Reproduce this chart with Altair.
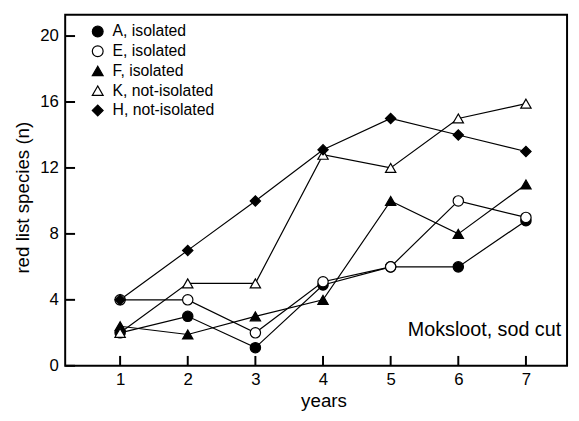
import altair as alt
import pandas as pd

years = [1, 2, 3, 4, 5, 6, 7]
series_labels = ["A, isolated", "E, isolated", "F, isolated", "K, not-isolated", "H, not-isolated"]
A = [2, 3, 1.1, 4.9, 6, 6, 8.8]
E = [4, 4, 2, 5.1, 6, 10, 9]
F = [2.4, 1.9, 3, 4, 10, 8, 11]
K = [2, 5, 5, 12.8, 12, 15, 15.9]
H = [4, 7, 10, 13.1, 15, 14, 13]
y_ticks = [0, 4, 8, 12, 16, 20]
annotation = "Moksloot, sod cut"

shapes = ["circle", "circle", "triangle-up", "triangle-up", "diamond"]
fills = ["black", "white", "black", "white", "black"]
strokes = ["black"] * 5

rows = []
for lab, vals in zip(series_labels, [A, E, F, K, H]):
    for yr, v in zip(years, vals):
        rows.append({"series": lab, "year": yr, "n": v})
df = pd.DataFrame(rows)

FONT = "Liberation Sans"
W, H_ = 509, 356
TICK = 9

xscale = alt.Scale(domain=[0.188, 7.608], nice=False, zero=False)
yscale = alt.Scale(domain=[0, 21.29], nice=False, zero=True)

xaxis = alt.Axis(values=years, ticks=False, domain=False, grid=False, labelPadding=6,
                 labelFontSize=17, title="years", titleFontSize=19, titleFontWeight="normal",
                 titlePadding=4, titleX=262, labelColor="black", titleColor="black", format="d")
yaxis = alt.Axis(values=y_ticks, ticks=False, domain=False, grid=False, labelPadding=7,
                 labelFontSize=17, title="red list species (n)", titleFontSize=19,
                 titleFontWeight="normal", titleAngle=270, titleX=-43, titleY=185,
                 titleAlign="center", titleBaseline="middle", labelColor="black", titleColor="black")

legend = alt.Legend(orient="none", legendX=25, legendY=9, title=None, labelFontSize=16,
                    symbolSize=120, symbolStrokeWidth=1.2,
                    rowPadding=4, labelOffset=7, padding=0, labelColor="black")

base = alt.Chart(df)

lines = base.mark_line(color="black", strokeWidth=1.2).encode(
    x=alt.X("year:Q", scale=xscale, axis=xaxis),
    y=alt.Y("n:Q", scale=yscale, axis=yaxis),
    detail="series:N",
)

points = base.mark_point(filled=False, size=110, strokeWidth=1.2, opacity=1, fillOpacity=1).encode(
    x=alt.X("year:Q", scale=xscale),
    y=alt.Y("n:Q", scale=yscale),
    shape=alt.Shape("series:N", scale=alt.Scale(domain=series_labels, range=shapes), legend=legend),
    fill=alt.Fill("series:N", scale=alt.Scale(domain=series_labels, range=fills), legend=legend),
    stroke=alt.Stroke("series:N", scale=alt.Scale(domain=series_labels, range=strokes), legend=legend),
)

# inward tick marks drawn as short rules from the frame
tick_y_df = pd.DataFrame({"tv": y_ticks})
tick_x_df = pd.DataFrame({"tx": years})

yticks = alt.Chart(tick_y_df).mark_rule(color="#000000", strokeWidth=2, opacity=1).encode(
    y=alt.Y("tv:Q", scale=yscale),
    x=alt.value(0),
    x2=alt.value(TICK + 1),
)
xticks = alt.Chart(tick_x_df).mark_rule(color="#000000", strokeWidth=2, opacity=1).encode(
    x=alt.X("tx:Q", scale=xscale),
    y=alt.value(H_),
    y2=alt.value(H_ - TICK - 1),
)

text = alt.Chart(pd.DataFrame({"t": [annotation]})).mark_text(
    align="right", baseline="alphabetic", fontSize=20, font=FONT, color="black"
).encode(text="t:N", x=alt.value(503), y=alt.value(326))

chart = alt.layer(lines, points, yticks, xticks, text).properties(
    width=W, height=H_,
    autosize=alt.AutoSizeParams(type="none"),
    padding={"left": 58, "top": 4, "right": 4, "bottom": 45},
).configure(font=FONT).configure_view(stroke="black", strokeWidth=2)

chart.save("out.html", embed_options={"renderer": "svg", "actions": False})
